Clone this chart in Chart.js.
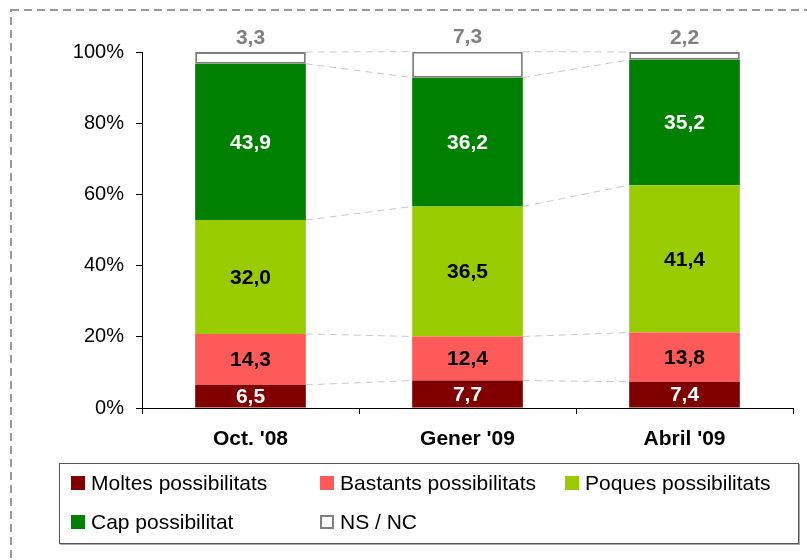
<!DOCTYPE html>
<html lang="ca">
<head>
<meta charset="UTF-8">
<title>Possibilitats</title>
<script src="https://cdn.jsdelivr.net/npm/chart.js@4.4.0/dist/chart.umd.min.js"></script>
<style>
    * { margin: 0; padding: 0; box-sizing: border-box; }
    body {
        width: 807px;
        height: 560px;
        overflow: hidden;
        position: relative;
        background: #fff;
        font-family: 'Liberation Sans', Arial, sans-serif;
    }
    #chart { position: absolute; left: 0; top: 0; }
    .legend {
        position: absolute;
        left: 59px;
        top: 463px;
        width: 740px;
        height: 81px;
        border: 1px solid #555;
        box-shadow: 1px 1px 0 #aaa;
        background: #fff;
    }
    .item {
        position: absolute;
        display: flex;
        align-items: center;
        height: 24px;
        font-size: 21px;
        color: #000;
        white-space: nowrap;
    }
    .sw {
        width: 14px;
        height: 14px;
        margin-right: 6px;
    }
</style>
</head>
<body>
<canvas id="chart" width="807" height="560"></canvas>
<div class="legend" id="legend"></div>

<script>
    // data
    const categories = ["Oct. '08", "Gener '09", "Abril '09"];
    const seriesNames = ['Moltes possibilitats', 'Bastants possibilitats', 'Poques possibilitats', 'Cap possibilitat', 'NS / NC'];
    const moltes = [6.5, 7.7, 7.4];
    const bastants = [14.3, 12.4, 13.8];
    const poques = [32.0, 36.5, 41.4];
    const cap = [43.9, 36.2, 35.2];
    const nsnc = [3.3, 7.3, 2.2];
    const yTickStep = 20;

    const fills = ['#800000', '#ff5a5a', '#99cc00', '#008000', '#ffffff'];
    const labelColors = ['#fff', '#000', '#000', '#fff', '#808080'];
    const values = [moltes, bastants, poques, cap, nsnc];

    const fmt = v => v.toFixed(1).replace('.', ',');

    // dashed frame around everything
    const framePlugin = {
        id: 'frame',
        beforeDraw(chart) {
            const ctx = chart.ctx;
            ctx.save();
            ctx.strokeStyle = '#999';
            ctx.lineWidth = 2;
            ctx.setLineDash([8, 5]);
            ctx.strokeRect(11, 10, 900, 700);
            ctx.restore();
        }
    };

    // thin dashed lines joining the segment edges of neighbouring bars
    const connectorPlugin = {
        id: 'connectors',
        beforeDatasetsDraw(chart) {
            const ctx = chart.ctx;
            ctx.save();
            ctx.strokeStyle = '#c8c8c8';
            ctx.lineWidth = 1;
            ctx.setLineDash([7, 5]);
            chart.data.datasets.forEach((ds, d) => {
                const bars = chart.getDatasetMeta(d).data;
                for (let j = 0; j < bars.length - 1; j++) {
                    const a = bars[j], b = bars[j + 1];
                    ctx.beginPath();
                    ctx.moveTo(a.x + a.width / 2, a.y);
                    ctx.lineTo(b.x - b.width / 2, b.y);
                    ctx.stroke();
                }
            });
            ctx.restore();
        }
    };

    const valueLabelPlugin = {
        id: 'valueLabels',
        afterDatasetsDraw(chart) {
            const ctx = chart.ctx;
            ctx.save();
            ctx.font = 'bold 21px "Liberation Sans", Arial, sans-serif';
            ctx.textAlign = 'center';
            ctx.textBaseline = 'middle';
            chart.data.datasets.forEach((ds, d) => {
                chart.getDatasetMeta(d).data.forEach((bar, j) => {
                    ctx.fillStyle = labelColors[d];
                    const y = d === 4 ? bar.y - 14 : (bar.y + bar.base) / 2 + 1;
                    ctx.fillText(fmt(ds.data[j]), bar.x, y);
                });
            });
            ctx.restore();
        }
    };

    Chart.defaults.font.family = "'Liberation Sans', Arial, sans-serif";
    Chart.defaults.color = '#000';

    new Chart(document.getElementById('chart'), {
        type: 'bar',
        data: {
            labels: categories,
            datasets: seriesNames.map((name, i) => ({
                label: name,
                data: values[i],
                backgroundColor: fills[i],
                borderColor: i === 4 ? '#808080' : fills[i],
                borderWidth: i === 4 ? 2 : 0,
                borderSkipped: false,
                clip: 4,
                barPercentage: 0.51,
                categoryPercentage: 1
            }))
        },
        options: {
            responsive: false,
            animation: false,
            layout: { padding: { left: 0, right: 14, top: 52, bottom: 92 } },
            plugins: {
                legend: { display: false },
                tooltip: { enabled: false }
            },
            scales: {
                x: {
                    stacked: true,
                    afterFit(scale) { scale.height = 60; },
                    grid: { offset: true, drawOnChartArea: false, tickLength: 6, color: '#000' },
                    border: { color: '#000', width: 1 },
                    ticks: { font: { size: 21, weight: 'bold' }, padding: 13, color: '#000' }
                },
                y: {
                    stacked: true,
                    min: 0,
                    max: 100,
                    afterFit(scale) { scale.width = 142; },
                    grid: { drawOnChartArea: false, tickLength: 6, color: '#000' },
                    border: { color: '#000', width: 1 },
                    ticks: {
                        stepSize: yTickStep,
                        padding: 12,
                        font: { size: 20 },
                        color: '#000',
                        callback: v => v + '%'
                    }
                }
            }
        },
        plugins: [framePlugin, connectorPlugin, valueLabelPlugin]
    });

    // legend in a fixed 3-column grid like the original
    const colX = [11, 260, 505];
    const rowY = [7, 46];
    const legend = document.getElementById('legend');
    seriesNames.forEach((name, i) => {
        const item = document.createElement('div');
        item.className = 'item';
        item.style.left = colX[i % 3] + 'px';
        item.style.top = rowY[Math.floor(i / 3)] + 'px';
        const sw = document.createElement('span');
        sw.className = 'sw';
        sw.style.background = fills[i];
        if (i === 4) sw.style.border = '2px solid #808080';
        item.appendChild(sw);
        item.appendChild(document.createTextNode(name));
        legend.appendChild(item);
    });
</script>
</body>
</html>
